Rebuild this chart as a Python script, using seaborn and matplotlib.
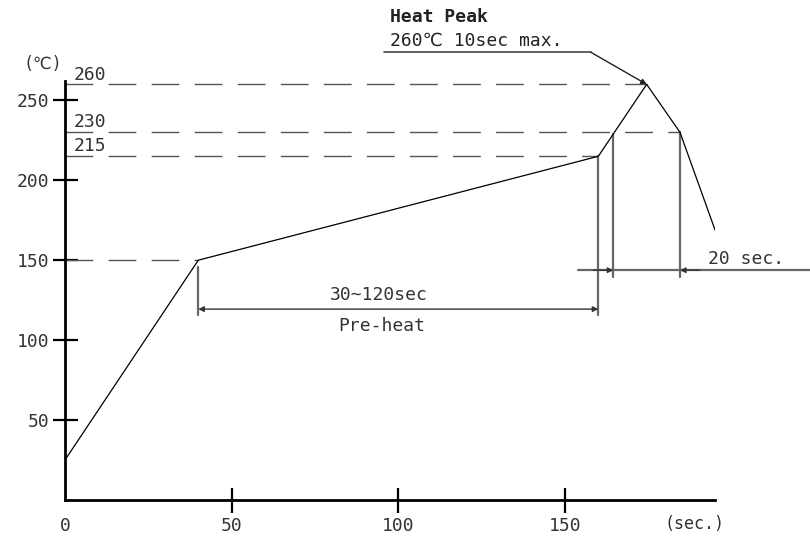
import matplotlib
matplotlib.use("Agg")
from matplotlib import pyplot as plt
import seaborn as sns
import pandas as pd

# reflow profile (time in sec, temperature in C)
time_pts = [0, 40, 160, 174.5, 184.5, 195]
temp_pts = [25, 150, 215, 260, 230, 169]

# reference levels: level, x where the dashed line stops, label shown
ref_levels = [150, 215, 230, 260]
ref_ends = [40, 160, 184.5, 174.5]
ref_labels = ['', '215', '230', '260']

x_ticks = [0, 50, 100, 150]
y_ticks = [50, 100, 150, 200, 250]

# dimension marks
preheat_start, preheat_end, preheat_y = 40, 160, 119.4
peak_start, peak_end, peak_dim_y = 164.5, 184.5, 143.75

sns.set_style("white")
plt.rcParams['font.family'] = ['DejaVu Sans Mono', 'DejaVu Sans']

fig = plt.figure(figsize=(8.1, 5.37), dpi=100)
ax = fig.add_axes([0.0802, 0.0689, 0.8025, 0.780])

df = pd.DataFrame({'time': time_pts, 'temp': temp_pts})
sns.lineplot(data=df, x='time', y='temp', ax=ax, color='black', lw=0.9,
             sort=False, zorder=5)

ax.set_xlim(0, 195)
ax.set_ylim(0, 262)
ax.set_xticks(x_ticks)
ax.set_yticks(y_ticks)
ax.set_xlabel('')
ax.set_ylabel('')
for s in ['top', 'right']:
    ax.spines[s].set_visible(False)
for s in ['left', 'bottom']:
    ax.spines[s].set_linewidth(2)
    ax.spines[s].set_color('black')
ax.tick_params(bottom=True, left=True, direction='inout', length=18, width=1.6,
               color='black', labelsize=13, labelcolor='#333333')
ax.tick_params(axis='y', pad=2)
ax.tick_params(axis='x', pad=3)
ax.xaxis.get_major_ticks()[0].tick1line.set_visible(False)
ax.text(189, -15, '(sec.)', ha='center', va='center', fontsize=12, color='#333333', clip_on=False)
ax.text(-6.6, 273, '(℃)', ha='center', va='center', fontsize=12, color='#333333', clip_on=False)

# dashed reference lines
for lvl, xe, lab in zip(ref_levels, ref_ends, ref_labels):
    ax.plot([0, xe], [lvl, lvl], color='#555555', lw=1.0,
            linestyle=(0, (20, 11)), clip_on=False)
    if lab:
        ax.text(2.5, lvl + 0.5, lab, ha='left', va='bottom', fontsize=13,
                color='#333333')

dim_kw = dict(color='#666666', lw=1.6, clip_on=False)
# pre-heat extension lines and arrow
ax.plot([preheat_start, preheat_start], [145.6, 115.6], **dim_kw)
ax.plot([preheat_end, preheat_end], [215, 115.6], **dim_kw)
ax.annotate('', xy=(preheat_start, preheat_y), xytext=(preheat_end, preheat_y),
            arrowprops=dict(arrowstyle='<|-|>', color='#333333', lw=1.0,
                            mutation_scale=8, shrinkA=0, shrinkB=0))
ax.text((preheat_start + preheat_end) / 2 - 6, 128, '30~120sec', ha='center',
        va='center', fontsize=13, color='#333333')
ax.text((preheat_start + preheat_end) / 2 - 5, 108.7, 'Pre-heat', ha='center',
        va='center', fontsize=13, color='#333333')

# 20 sec dimension
ax.plot([peak_start, peak_start], [229, 139.4], **dim_kw)
ax.plot([peak_end, peak_end], [230, 139.4], **dim_kw)
ax.plot([154, 224], [peak_dim_y, peak_dim_y], **dim_kw)
ax.annotate('', xy=(peak_start, peak_dim_y), xytext=(peak_start - 6, peak_dim_y),
            arrowprops=dict(arrowstyle='-|>', color='#333333', lw=1.0,
                            mutation_scale=8, shrinkA=0, shrinkB=0))
ax.annotate('', xy=(peak_end, peak_dim_y), xytext=(peak_end + 6, peak_dim_y),
            arrowprops=dict(arrowstyle='-|>', color='#333333', lw=1.0,
                            mutation_scale=8, shrinkA=0, shrinkB=0))
ax.text(193, 151, '20 sec.', ha='left', va='center', fontsize=13,
        color='#333333', clip_on=False)

# heat peak leader
ax.plot([95.8, 157.8], [280, 280], color='#444444', lw=1.2, clip_on=False)
ax.annotate('', xy=(174.5, 260), xytext=(157.8, 280),
            arrowprops=dict(arrowstyle='-|>', color='#222222', lw=1.0,
                            mutation_scale=8, shrinkA=0, shrinkB=0),
            annotation_clip=False)
ax.text(97.5, 302, 'Heat Peak', ha='left', va='center', fontsize=13,
        color='#222222', fontweight='bold', clip_on=False)
ax.text(97.5, 287.5, '260℃ 10sec max.', ha='left', va='center', fontsize=13,
        color='#222222', clip_on=False)

fig.savefig('out.png', dpi=100)
